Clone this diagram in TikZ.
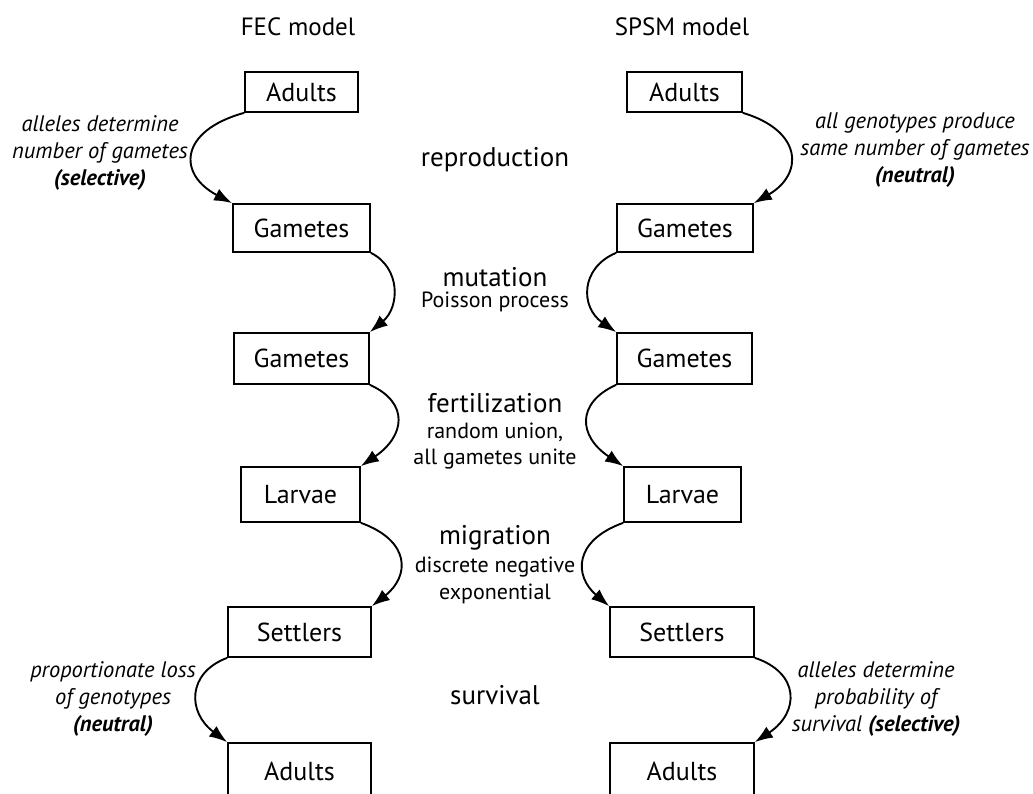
\documentclass[tikz,border=0pt]{standalone}
\usepackage{fontspec}
\setmainfont{PT Sans}
\usetikzlibrary{arrows.meta}
\begin{document}
\begin{tikzpicture}[x=1pt,y=-1pt,
  box/.style={draw,line width=1.7pt,inner sep=0pt,font=\fontsize{26}{30}\selectfont},
  ttl/.style={font=\fontsize{25}{29}\selectfont},
  proc/.style={font=\fontsize{27}{31}\selectfont},
  sub/.style={font=\fontsize{22}{26}\selectfont},
  side/.style={align=center,font=\fontsize{22.5}{27}\selectfont\itshape},
  flow/.style={line width=1.9pt,-{Latex[length=18pt,width=13pt]}}]
\fill[white] (0,0) rectangle (1033,794);
\useasboundingbox (0,0) rectangle (1033,794);
% titles
\node[ttl] (tf) at (298,27) {FEC model};
\node[ttl] (ts) at (682,27) {SPSM model};
% left column
\node[box,minimum width=113pt,minimum height=40pt] (la1) at (301.5,92) {Adults};
\node[box,minimum width=137pt,minimum height=48pt] (lg1) at (301.5,228) {Gametes};
\node[box,minimum width=135pt,minimum height=51pt] (lg2) at (301.5,358.5) {Gametes};
\node[box,minimum width=119pt,minimum height=55pt] (ll) at (300.5,494.5) {Larvae};
\node[box,minimum width=143pt,minimum height=50pt] (ls) at (299.5,632) {Settlers};
\node[box,minimum width=143pt,minimum height=56pt] (la2) at (299.5,771) {Adults};
% right column
\node[box,minimum width=115pt,minimum height=40pt] (ra1) at (684.5,92) {Adults};
\node[box,minimum width=136pt,minimum height=48pt] (rg1) at (685,228) {Gametes};
\node[box,minimum width=135pt,minimum height=51pt] (rg2) at (684.5,358.5) {Gametes};
\node[box,minimum width=117pt,minimum height=55pt] (rl) at (682.5,494.5) {Larvae};
\node[box,minimum width=144pt,minimum height=50pt] (rs) at (682,632) {Settlers};
\node[box,minimum width=144pt,minimum height=56pt] (ra2) at (682,771) {Adults};
% middle labels
\node[proc] (p1) at (495,160) {reproduction};
\node[proc] (p2) at (495,277) {mutation};
\node[sub] (p2s) at (495,302) {Poisson process};
\node[proc] (p3) at (495,403) {fertilization};
\node[sub] (p3s) at (495,432) {random union,};
\node[sub] (p3t) at (495,459) {all gametes unite};
\node[proc] (p4) at (495,538) {migration};
\node[sub] (p4s) at (495,567) {discrete negative};
\node[sub] (p4t) at (495,594) {exponential};
\node[proc] (p5) at (495,695) {survival};
% side labels
\node[side] (s1) at (100,153) {alleles determine\\number of gametes\\\textbf{(selective)}};
\node[side] (s2) at (915,150) {all genotypes produce\\same number of gametes\\\textbf{(neutral)}};
\node[side] (s3) at (113,699) {proportionate loss\\of genotypes\\\textbf{(neutral)}};
\node[side] (s4) at (876,699) {alleles determine\\probability of\\survival \textbf{(selective)}};
% left arrows
\draw[flow] (la1.south west) .. controls +(-65,18) and +(-55,-29) .. (lg1.north west);
\draw[flow] (lg1.south east) .. controls +(30,15) and +(30,-25) .. (lg2.north east);
\draw[flow] (lg2.south east) .. controls +(40,18) and +(44,-30) .. (ll.north east);
\draw[flow] (ll.south east) .. controls +(50,18) and +(38,-30) .. (ls.north east);
\draw[flow] (ls.south west) .. controls +(-40,15) and +(-40,-30) .. (la2.north west);
% right arrows
\draw[flow] (ra1.south east) .. controls +(60,18) and +(50,-29) .. (rg1.north east);
\draw[flow] (rg1.south west) .. controls +(-36,15) and +(-36,-25) .. (rg2.north west);
\draw[flow] (rg2.south west) .. controls +(-40,18) and +(-45,-30) .. (rl.north west);
\draw[flow] (rl.south west) .. controls +(-50,18) and +(-35,-30) .. (rs.north west);
\draw[flow] (rs.south east) .. controls +(45,15) and +(45,-30) .. (ra2.north east);
\end{tikzpicture}
\end{document}
